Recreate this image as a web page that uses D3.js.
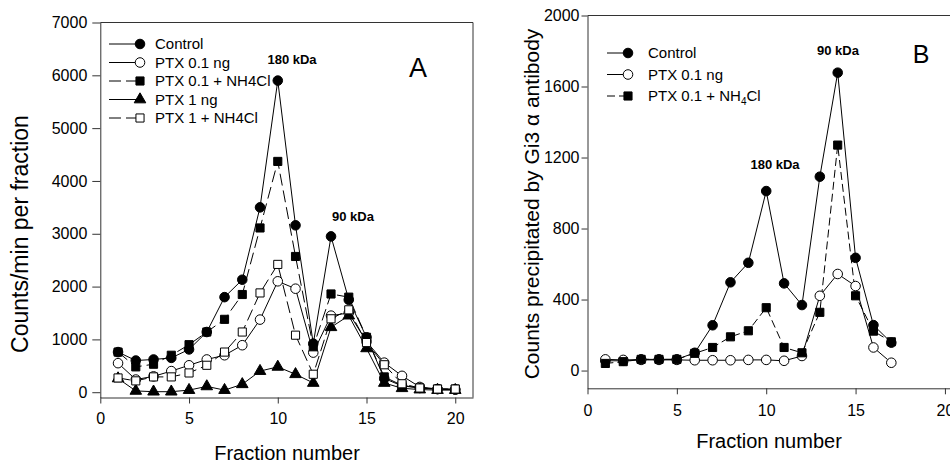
<!DOCTYPE html>
<html lang="en">
	<head>
		<meta charset="UTF-8">
		<title>Fractions A / B</title>
		<script src="https://d3js.org/d3.v7.min.js"></script>
		<style>
			body { margin: 0; background: white; }
			text { font-family: 'Liberation Sans', Arial, Helvetica, sans-serif; fill: #000; }
			.axis path, .axis line { stroke: #333; }
			.axis text { font-size: 16px; }
		</style>
	</head>
	<body>
		<div id="chart"></div>
		<script>
			// PANEL A data (counts/min per fraction) ///////////////////////
			var fractionsA = [1,2,3,4,5,6,7,8,9,10,11,12,13,14,15,16,17,18,19,20];
			var controlA   = [760,600,620,650,810,1140,1800,2130,3500,5900,3160,920,2950,1750,1040,260,120,80,60,50];
			var ptx01A     = [550,240,300,400,510,620,700,890,1375,2100,1960,750,1450,1500,960,560,310,100,60,50];
			var ptx01nhA   = [760,480,530,700,900,1140,1380,1850,3110,4370,2570,860,1860,1800,1040,290,130,80,60,60];
			var ptx1A      = [260,25,10,10,40,110,40,150,400,480,340,175,1230,1450,830,175,75,50,40,40];
			var ptx1nhA    = [270,215,290,290,365,510,760,1140,1880,2420,1080,340,1390,1560,940,520,160,80,60,60];
			var legendA    = ["Control","PTX 0.1 ng","PTX 0.1 + NH4Cl","PTX 1 ng","PTX 1 + NH4Cl"];

			// PANEL B data (counts precipitated by Gi3 alpha antibody) ////
			var fractionsB = [1,2,3,4,5,6,7,8,9,10,11,12,13,14,15,16,17];
			var controlB   = [55,55,63,63,63,100,255,497,607,1011,491,369,1092,1678,635,256,157];
			var ptx01B     = [63,60,60,60,60,58,58,58,60,60,55,82,421,544,476,130,44];
			var ptx01nhB   = [40,50,63,63,63,97,130,190,224,354,130,100,328,1270,421,222,162];
			var legendB    = ["Control","PTX 0.1 ng","PTX 0.1 + NH4Cl"];

			var xTicks  = [0,5,10,15,20];
			var yTicksA = [0,1000,2000,3000,4000,5000,6000,7000];
			var yTicksB = [0,400,800,1200,1600,2000];

			var svg = d3.select("#chart").append("svg")
				.attr("width", 950)
				.attr("height", 463);

			// marker shapes
			function marker(kind) {
				if (kind == "circle") return d3.symbol().type(d3.symbolCircle).size(72)();
				if (kind == "square") return d3.symbol().type(d3.symbolSquare).size(66)();
				return d3.symbol().type(d3.symbolTriangle).size(58)();
			}

			function drawSeries(g, x, y, xs, vals, s) {
				var line = d3.line()
					.x(function (d, i) { return x(xs[i]); })
					.y(function (d) { return y(d); });
				g.append("path")
					.datum(vals)
					.attr("d", line)
					.attr("fill", "none")
					.attr("stroke", "#000")
					.attr("stroke-width", 1)
					.attr("stroke-dasharray", s.dash);
			}

			function drawMarkers(g, x, y, xs, vals, s) {
				g.append("g").selectAll("path")
					.data(vals)
					.enter()
					.append("path")
					.attr("d", marker(s.shape))
					.attr("transform", function (d, i) { return "translate(" + x(xs[i]) + "," + y(d) + ")"; })
					.attr("fill", s.filled ? "#000" : "#fff")
					.attr("stroke", "#000")
					.attr("stroke-width", 1);
			}

			function drawPanel(opt) {
				var x = d3.scaleLinear().domain([0, 21]).range(opt.xr);
				var y = d3.scaleLinear().domain([-100, opt.ymax]).range(opt.yr);
				var g = svg.append("g");

				// frame top + right
				g.append("line").attr("x1", opt.xr[0]).attr("x2", opt.xr[1]).attr("y1", opt.yr[1]).attr("y2", opt.yr[1]).attr("stroke", "#333");
				g.append("line").attr("x1", opt.xr[1]).attr("x2", opt.xr[1]).attr("y1", opt.yr[0]).attr("y2", opt.yr[1]).attr("stroke", "#333");

				g.append("g").attr("class", "axis")
					.attr("transform", "translate(0," + opt.yr[0] + ")")
					.call(d3.axisBottom(x).tickValues(xTicks).tickFormat(d3.format("d")).tickSize(6).tickSizeOuter(0).tickPadding(opt.xpad));
				g.append("g").attr("class", "axis")
					.attr("transform", "translate(" + opt.xr[0] + ",0)")
					.call(d3.axisLeft(y).tickValues(opt.yticks).tickFormat(d3.format("d")).tickSize(opt.ytick).tickSizeOuter(0).tickPadding(opt.ypad));

				opt.series.forEach(function (s) { drawSeries(g, x, y, opt.xs, s.vals, s); });
				opt.series.forEach(function (s) { drawMarkers(g, x, y, opt.xs, s.vals, s); });

				// legend
				opt.series.forEach(function (s, i) {
					var ly = opt.leg.y + i * opt.leg.dy;
					g.append("line")
						.attr("x1", opt.leg.x1).attr("x2", opt.leg.x2)
						.attr("y1", ly).attr("y2", ly)
						.attr("stroke", "#000").attr("stroke-dasharray", s.dash);
					g.append("path")
						.attr("d", marker(s.shape))
						.attr("transform", "translate(" + opt.leg.x2 + "," + ly + ")")
						.attr("fill", s.filled ? "#000" : "#fff")
						.attr("stroke", "#000");
					var t = g.append("text")
						.attr("x", opt.leg.tx).attr("y", ly + 5)
						.style("font-size", "15px");
					if (opt.sub && s.label.indexOf("NH4Cl") > -1) {
						t.append("tspan").text("PTX 0.1 + NH");
						t.append("tspan").attr("dy", 4).style("font-size", "10px").text("4");
						t.append("tspan").attr("dy", -4).text("Cl");
					} else {
						t.text(s.label);
					}
				});

				return { x: x, y: y, g: g };
			}

			// PANEL A ///////////////////////////////////////////////////////
			var pa = drawPanel({
				xr: [100.3, 473], yr: [397.5, 22.5], ymax: 7000,
				xs: fractionsA, yticks: yTicksA, ytick: 8, ypad: 5, xpad: 9,
				leg: { x1: 109, x2: 140, tx: 155, y: 44, dy: 18.5 },
				series: [
					{ label: legendA[0], vals: controlA, shape: "circle", filled: true, dash: null },
					{ label: legendA[1], vals: ptx01A, shape: "circle", filled: false, dash: null },
					{ label: legendA[2], vals: ptx01nhA, shape: "square", filled: true, dash: "12,5" },
					{ label: legendA[3], vals: ptx1A, shape: "triangle", filled: true, dash: null },
					{ label: legendA[4], vals: ptx1nhA, shape: "square", filled: false, dash: "12,5" }
				]
			});

			// PANEL B ///////////////////////////////////////////////////////
			var pb = drawPanel({
				xr: [587.5, 962.8], yr: [388.3, 15.5], ymax: 2000,
				xs: fractionsB, yticks: yTicksB, ytick: 6, ypad: 2, xpad: 10,
				leg: { x1: 607, x2: 628, tx: 648, y: 53, dy: 21.5 }, sub: true,
				series: [
					{ label: legendB[0], vals: controlB, shape: "circle", filled: true, dash: null },
					{ label: legendB[1], vals: ptx01B, shape: "circle", filled: false, dash: null },
					{ label: legendB[2], vals: ptx01nhB, shape: "square", filled: true, dash: "8,4" }
				]
			});

			// titles and notes
			svg.append("text").attr("x", 287).attr("y", 460).attr("text-anchor", "middle").style("font-size", "20px").text("Fraction number");
			svg.append("text").attr("x", 769).attr("y", 448).attr("text-anchor", "middle").style("font-size", "20px").text("Fraction number");
			svg.append("text").attr("transform", "translate(28,234) rotate(-90)").attr("text-anchor", "middle").style("font-size", "23px").text("Counts/min per fraction");
			svg.append("text").attr("transform", "translate(539,204) rotate(-90)").attr("text-anchor", "middle").style("font-size", "21px").text("Counts precipitated by Gi3 \u03b1 antibody");

			svg.append("text").attr("x", 418).attr("y", 77).attr("text-anchor", "middle").style("font-size", "27px").text("A");
			svg.append("text").attr("x", 921).attr("y", 63).attr("text-anchor", "middle").style("font-size", "25px").text("B");

			svg.append("text").attr("x", 292).attr("y", 64).attr("text-anchor", "middle").style("font-size", "13px").style("font-weight", "bold").text("180 kDa");
			svg.append("text").attr("x", 353).attr("y", 221).attr("text-anchor", "middle").style("font-size", "13px").style("font-weight", "bold").text("90 kDa");
			svg.append("text").attr("x", 838).attr("y", 55).attr("text-anchor", "middle").style("font-size", "13px").style("font-weight", "bold").text("90 kDa");
			svg.append("text").attr("x", 775).attr("y", 169).attr("text-anchor", "middle").style("font-size", "13px").style("font-weight", "bold").text("180 kDa");
		</script>
	</body>
</html>
